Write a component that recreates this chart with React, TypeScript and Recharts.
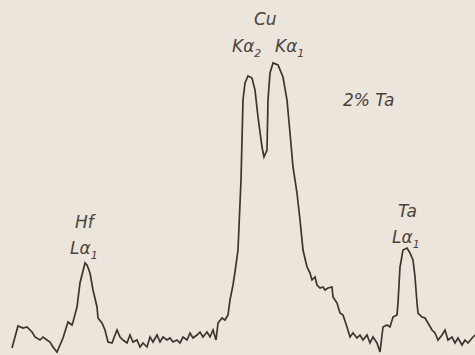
import React from "react";
import { LineChart, Line, XAxis, YAxis } from "recharts";

// detector channel (horizontal position along the scan)
const channel = [
  12, 18, 23, 27, 32, 35, 40, 43, 47, 50,
  53, 57, 60, 63, 68, 72, 73, 77, 80, 85,
  87, 90, 93, 97, 98, 102, 105, 108, 112, 117,
  120, 123, 127, 130, 133, 137, 140, 143, 147, 150,
  153, 157, 160, 163, 167, 170, 173, 177, 180, 183,
  187, 190, 193, 197, 200, 203, 207, 210, 213, 216,
  218, 222, 225, 228, 230, 233, 235, 238, 241, 243,
  245, 248, 252, 255, 258, 262, 264, 267, 268, 270,
  273, 278, 283, 287, 290, 293, 297, 300, 303, 307,
  310, 312, 315, 317, 320, 323, 325, 328, 332, 333,
  337, 340, 343, 347, 350, 353, 357, 360, 363, 367,
  370, 373, 377, 380, 383, 387, 390, 393, 397, 398,
  400, 403, 407, 410, 413, 415, 417, 418, 422, 425,
  428, 432, 435, 438, 442, 445, 448, 452, 455, 458,
  462, 465, 468, 473, 475,
];

// recorded intensity
const counts = [
  7, 29, 27, 28, 23, 18, 15, 18, 15, 13,
  8, 3, 10, 17, 33, 30, 33, 48, 72, 92,
  90, 82, 65, 48, 37, 32, 25, 13, 12, 25,
  18, 15, 12, 20, 13, 15, 8, 12, 8, 18,
  13, 20, 13, 18, 15, 17, 13, 15, 12, 18,
  15, 22, 17, 20, 23, 18, 23, 18, 25, 15,
  32, 37, 35, 40, 55, 70, 83, 105, 175, 255,
  272, 279, 277, 265, 238, 208, 198, 205, 255, 282,
  292, 290, 278, 255, 222, 188, 162, 135, 105, 88,
  82, 75, 78, 70, 67, 68, 65, 67, 68, 58,
  52, 42, 40, 28, 18, 22, 17, 20, 15, 20,
  12, 18, 12, 3, 28, 30, 28, 38, 40, 52,
  88, 105, 107, 102, 95, 78, 52, 42, 38, 37,
  32, 25, 22, 15, 20, 25, 15, 18, 12, 17,
  10, 15, 12, 18, 20,
];

const W = 475;
const H = 355;
const INK = "#3b3530";
const PAPER = "#ece5dc";

const data = channel.map((c, i) => ({ channel: c, counts: counts[i] }));

const Tag: React.FC<{ left: number; top: number; children: React.ReactNode }> = ({
  left,
  top,
  children,
}) => (
  <div
    style={{
      position: "absolute",
      left,
      top,
      fontFamily: "'DejaVu Sans', sans-serif",
      fontStyle: "italic",
      fontSize: 17,
      lineHeight: 1,
      color: "#4a433c",
      whiteSpace: "nowrap",
    }}
  >
    {children}
  </div>
);

const Sub: React.FC<{ children: React.ReactNode }> = ({ children }) => (
  <span style={{ fontSize: 11, position: "relative", top: 5 }}>{children}</span>
);

export default function App() {
  return (
    <div
      style={{
        position: "fixed",
        left: 0,
        top: 0,
        width: W,
        height: H,
        background: PAPER,
        overflow: "hidden",
      }}
    >
      <LineChart width={W} height={H} data={data} margin={{ top: 0, right: 0, bottom: 0, left: 0 }}>
        <XAxis dataKey="channel" type="number" domain={[0, W]} hide />
        <YAxis type="number" domain={[0, H]} hide />
        <Line
          type="linear"
          dataKey="counts"
          stroke={INK}
          strokeWidth={1.7}
          dot={false}
          activeDot={false}
          isAnimationActive={false}
        />
      </LineChart>

      <Tag left={75} top={214}>Hf</Tag>
      <Tag left={70} top={240}>
        Lα<Sub>1</Sub>
      </Tag>

      <Tag left={254} top={11}>Cu</Tag>
      <Tag left={232} top={38}>
        Kα<Sub>2</Sub>
      </Tag>
      <Tag left={275} top={38}>
        Kα<Sub>1</Sub>
      </Tag>

      <Tag left={343} top={92}>2% Ta</Tag>

      <Tag left={398} top={203}>Ta</Tag>
      <Tag left={392} top={229}>
        Lα<Sub>1</Sub>
      </Tag>
    </div>
  );
}
